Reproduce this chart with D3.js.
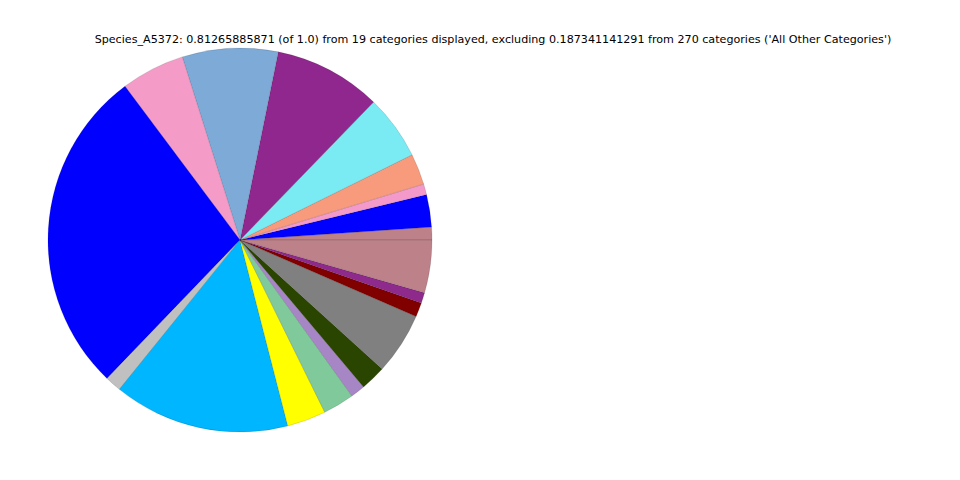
<!DOCTYPE html>
<html>
<head>
<meta charset="utf-8">
<script src="https://cdn.jsdelivr.net/npm/d3@7"></script>
<style>
  html, body { margin: 0; padding: 0; background: #ffffff; }
  svg { display: block; }
</style>
</head>
<body>
<svg id="chart" width="960" height="480"></svg>
<script>
const titleText = "Species_A5372: 0.81265885871 (of 1.0) from 19 categories displayed, excluding 0.187341141291 from 270 categories ('All Other Categories')";
const categories = ["Cat_01","Cat_02","Cat_03","Cat_04","Cat_05","Cat_06","Cat_07","Cat_08","Cat_09","Cat_10",
                    "Cat_11","Cat_12","Cat_13","Cat_14","Cat_15","Cat_16","Cat_17","Cat_18","Cat_19"];
const values = [0.0088, 0.0221, 0.0074, 0.0212, 0.0442, 0.0736, 0.0655, 0.0436, 0.2244, 0.0111,
                0.1205, 0.0266, 0.0214, 0.0099, 0.0174, 0.0424, 0.0097, 0.0072, 0.0361];
const colors = ["#bd8189","#0000ff","#f39acb","#f89a7c","#7aebf3","#90278e","#7eaad8","#f49bc7","#0000ff","#c0c0c0",
                "#00b7ff","#ffff00","#80c99b","#a686c4","#2a4500","#808080","#800000","#8e2a8c","#bd8189"];

const svg = d3.select("#chart");
const cx = 240, cy = 240, R = 192;

svg.append("text")
  .attr("x", 493).attr("y", 43)
  .attr("text-anchor", "middle")
  .attr("font-family", "DejaVu Sans, sans-serif")
  .attr("font-size", 11.14)
  .attr("fill", "#000")
  .text(titleText);

const data = categories.map((c, i) => ({ name: c, value: values[i], color: colors[i] }));

// matplotlib style: start at 3 o'clock, counterclockwise
const pie = d3.pie().sort(null).value(d => d.value)
  .startAngle(Math.PI / 2).endAngle(Math.PI / 2 - 2 * Math.PI);
const arc = d3.arc().innerRadius(0).outerRadius(R);

const g = svg.append("g").attr("transform", `translate(${cx},${cy})`);
g.selectAll("path")
  .data(pie(data))
  .join("path")
  .attr("d", arc)
  .attr("fill", d => d.data.color)
  .attr("stroke", "rgba(0,0,0,0.15)")
  .attr("stroke-width", 0.8);
</script>
</body>
</html>
